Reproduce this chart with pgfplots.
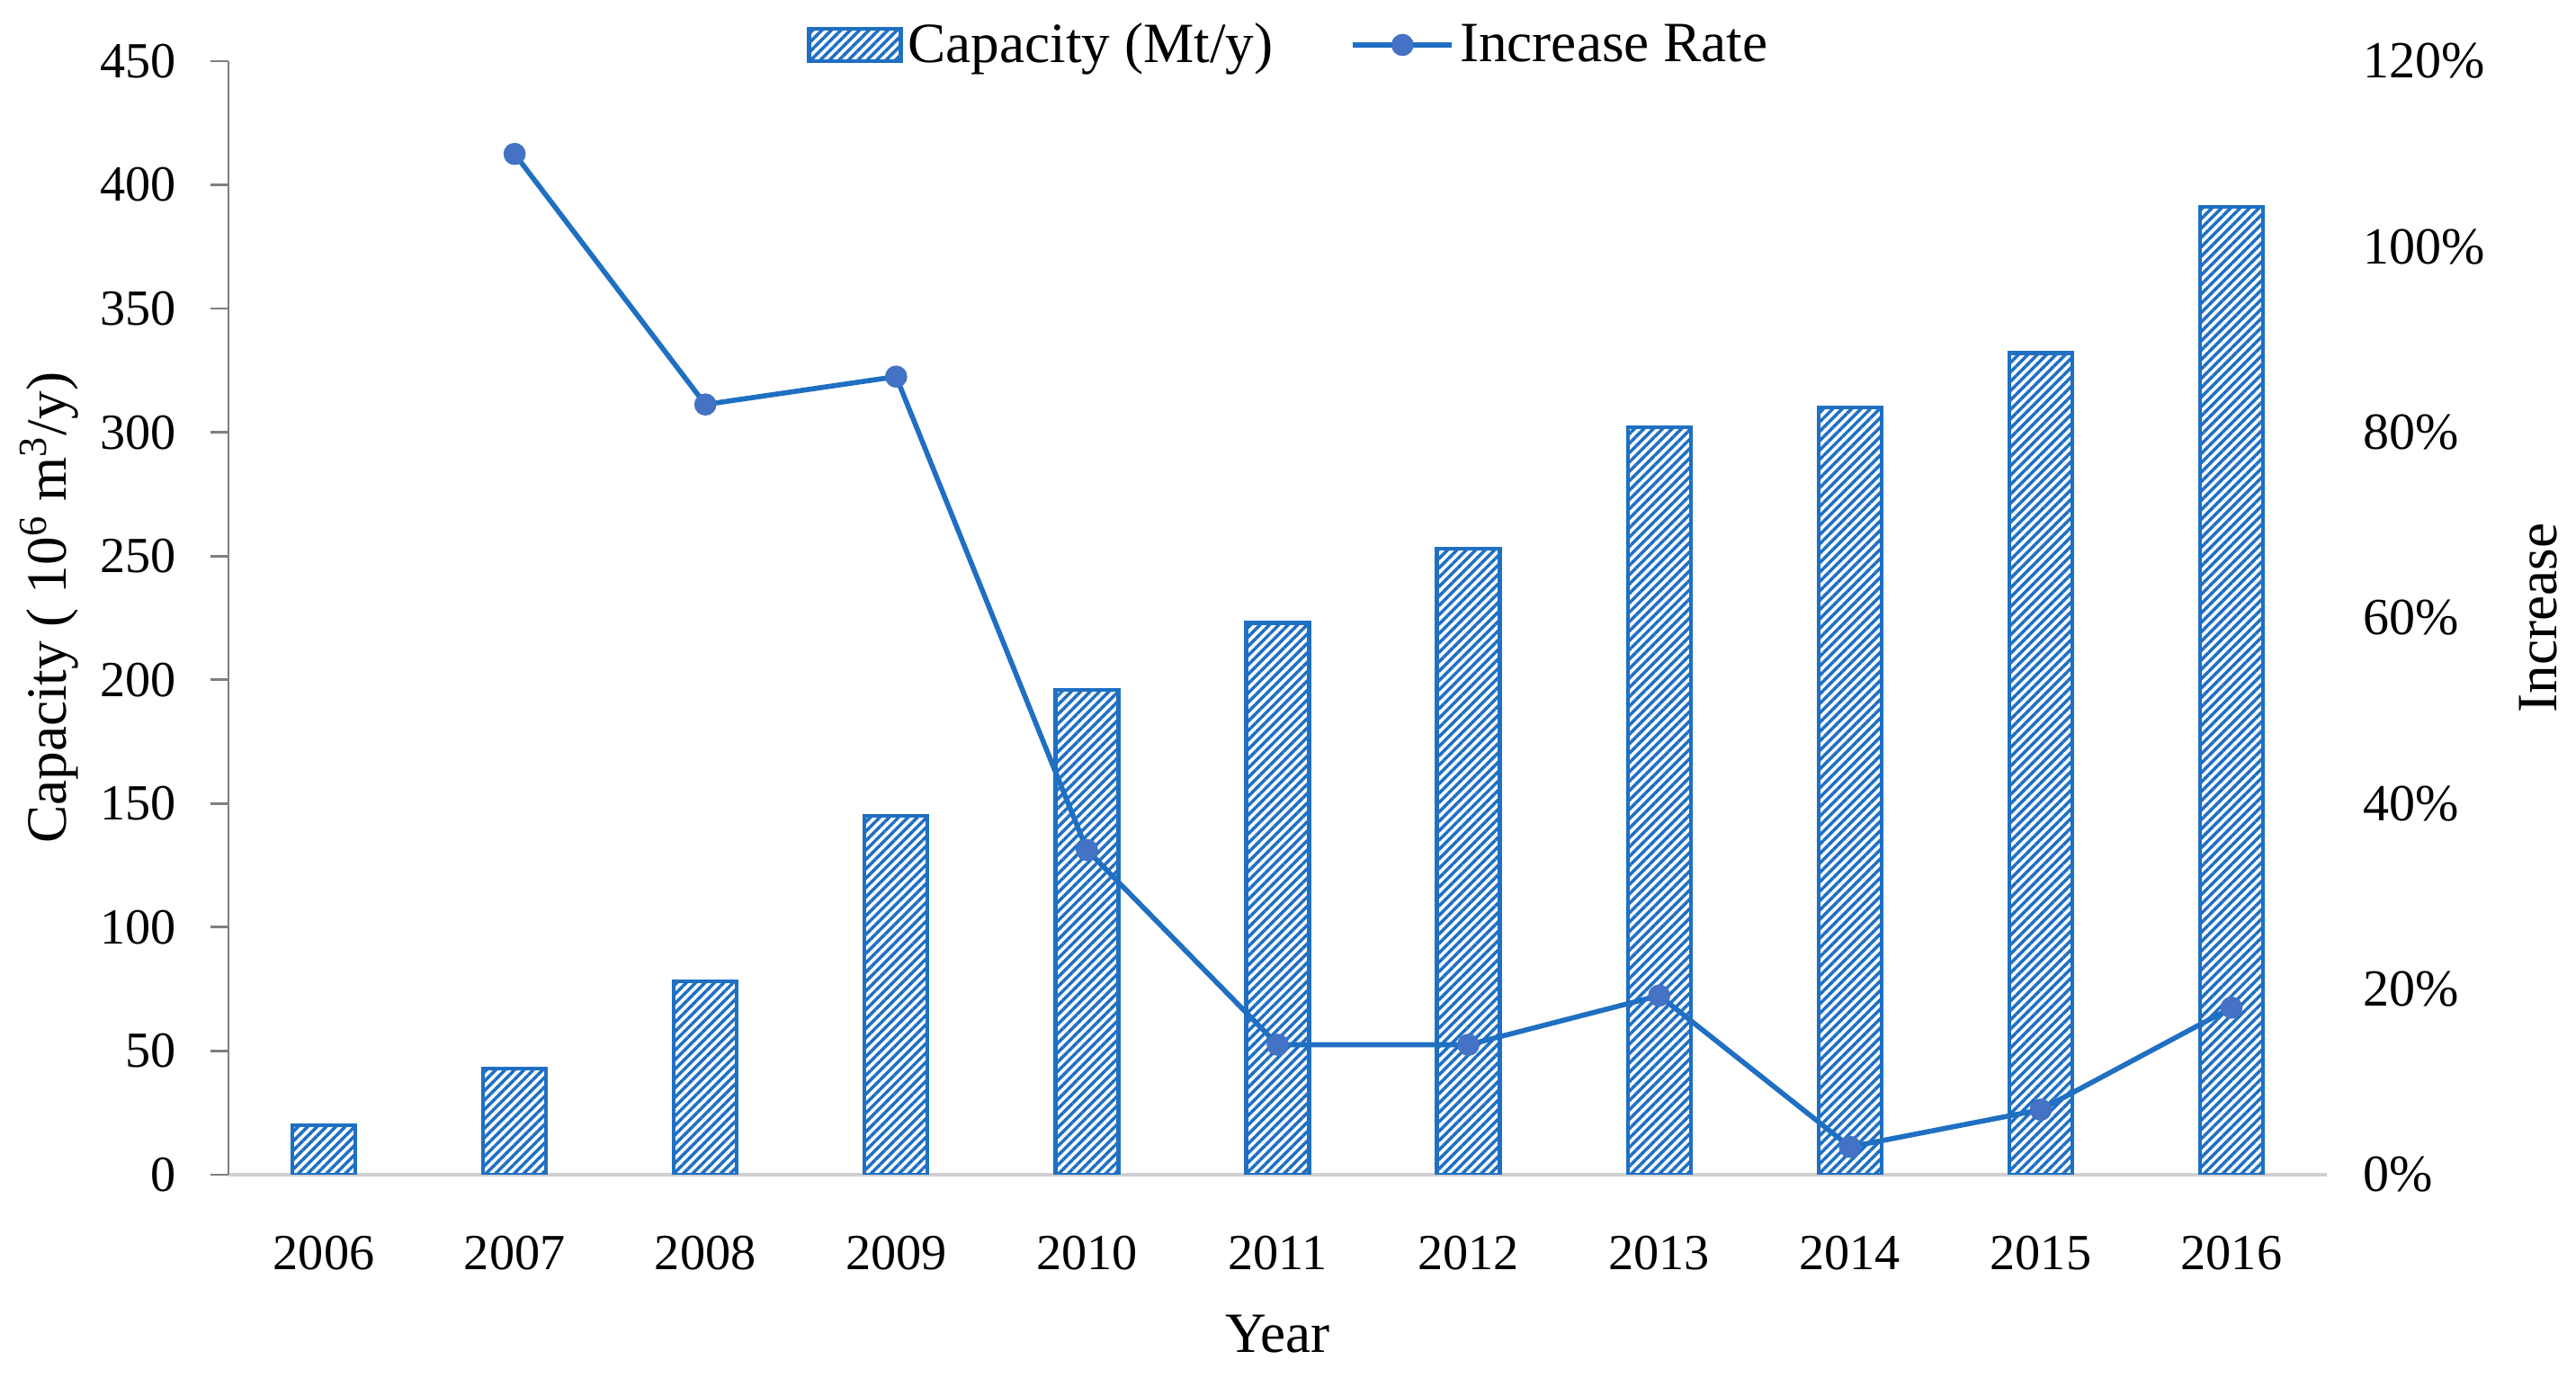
\documentclass[border=0pt]{standalone}
\usepackage{fontspec}
\setmainfont{Liberation Serif}
\usepackage{pgfplots}
\pgfplotsset{compat=1.18}
\usetikzlibrary{patterns.meta,calc}
\definecolor{barblue}{HTML}{1F6FC2}
\definecolor{lineblue}{HTML}{1F6FC2}
\definecolor{markblue}{HTML}{4472C4}
\definecolor{axgrayA}{HTML}{7F7F7F}
\definecolor{axgrayB}{HTML}{D0D0D0}
\pgfplotsset{
  barlegend/.style={legend image code/.code={\draw[##1] (0mm,-1.8mm) rectangle (10.2mm,1.8mm);}},
  linelegend/.style={legend image code/.code={\draw[mark repeat=2,mark phase=2,##1] plot coordinates {(0mm,0mm) (5.5mm,0mm) (11mm,0mm)};}},
}
\newcommand{\labfont}{\fontsize{18}{21}\selectfont}
\begin{document}
\begin{tikzpicture}[font=\fontsize{16}{19}\selectfont]
\begin{axis}[name=ax,
  width=233.3mm, height=123.8mm, scale only axis,
  xmin=-0.5, xmax=10.5, ymin=0, ymax=450,
  axis x line*=bottom, axis y line*=left,
  x axis line style={draw=axgrayB, line width=1.4pt},
  y axis line style={draw=axgrayA, line width=0.8pt},
  xtick={0,...,10},
  xticklabels={2006,2007,2008,2009,2010,2011,2012,2013,2014,2015,2016},
  x tick style={draw=none},
  extra x ticks={-0.5,0.5,...,10.5},
  extra x tick labels={},
  extra x tick style={tick style={draw=axgrayB, line width=1pt}, major tick length=3mm, tick align=outside},
  ytick={0,50,...,450},
  yticklabels={0,50,100,150,200,250,300,350,400,450},
  y tick style={draw=axgrayA, line width=0.8pt},
  tick align=outside, major tick length=2mm,
  xticklabel style={yshift=-3.6mm},
  yticklabel style={xshift=-2.6mm},
  xlabel={Year},
  xlabel style={at={(axis description cs:0.5,-0.143)}, anchor=center, font=\labfont},
  ylabel={Capacity ( 10\textsuperscript{6} m\textsuperscript{3}/y)},
  ylabel style={at={(axis description cs:-0.0853,0.509)}, anchor=center, rotate=0, font=\labfont},
]
\addplot[ybar, bar width=7mm, draw=barblue, line width=1.2pt,
  pattern={Lines[angle=45,distance=2.1pt,line width=1pt]}, pattern color=barblue]
  coordinates {(0,20) (1,43) (2,78) (3,145) (4,196) (5,223) (6,253) (7,302) (8,310) (9,332) (10,391)};
\end{axis}
\begin{axis}[
  width=233.3mm, height=123.8mm, scale only axis,
  xmin=-0.5, xmax=10.5, ymin=0, ymax=120,
  axis x line=none, axis y line*=right,
  y axis line style={draw=none},
  ytick={0,20,...,120},
  yticklabels={0\%,20\%,40\%,60\%,80\%,100\%,120\%},
  y tick style={draw=none},
  yticklabel style={anchor=west, xshift=2.8mm, font=\fontsize{16.5}{19}\selectfont},
  ylabel={Increase},
  ylabel style={at={(axis description cs:1.1007,0.5)}, anchor=center, rotate=0, font=\labfont},
  legend columns=2,
  legend style={at={(0.5,1)}, anchor=center, yshift=1.8mm, xshift=1.4mm, draw=none, fill=none,
    /tikz/every even column/.append style={column sep=8mm},
    nodes={inner sep=0.6mm, font=\labfont}},
]
\addlegendimage{barlegend, draw=barblue, line width=1.2pt,
  pattern={Lines[angle=45,distance=2.1pt,line width=1pt]}, pattern color=barblue}
\addlegendentry{Capacity (Mt/y)}
\addplot[linelegend, color=lineblue, line width=1.6pt, mark=*, mark size=2.7pt,
  mark options={fill=markblue, draw=markblue}]
  coordinates {(1,110) (2,83) (3,86) (4,35) (5,14) (6,14) (7,19.3) (8,3) (9,7) (10,18)};
\addlegendentry{Increase Rate}
\end{axis}
\pgfresetboundingbox
\path ($(ax.south west)+(-25.4mm,-22.6mm)$) rectangle ($(ax.north east)+(27.7mm,6.8mm)$);
\end{tikzpicture}
\end{document}
